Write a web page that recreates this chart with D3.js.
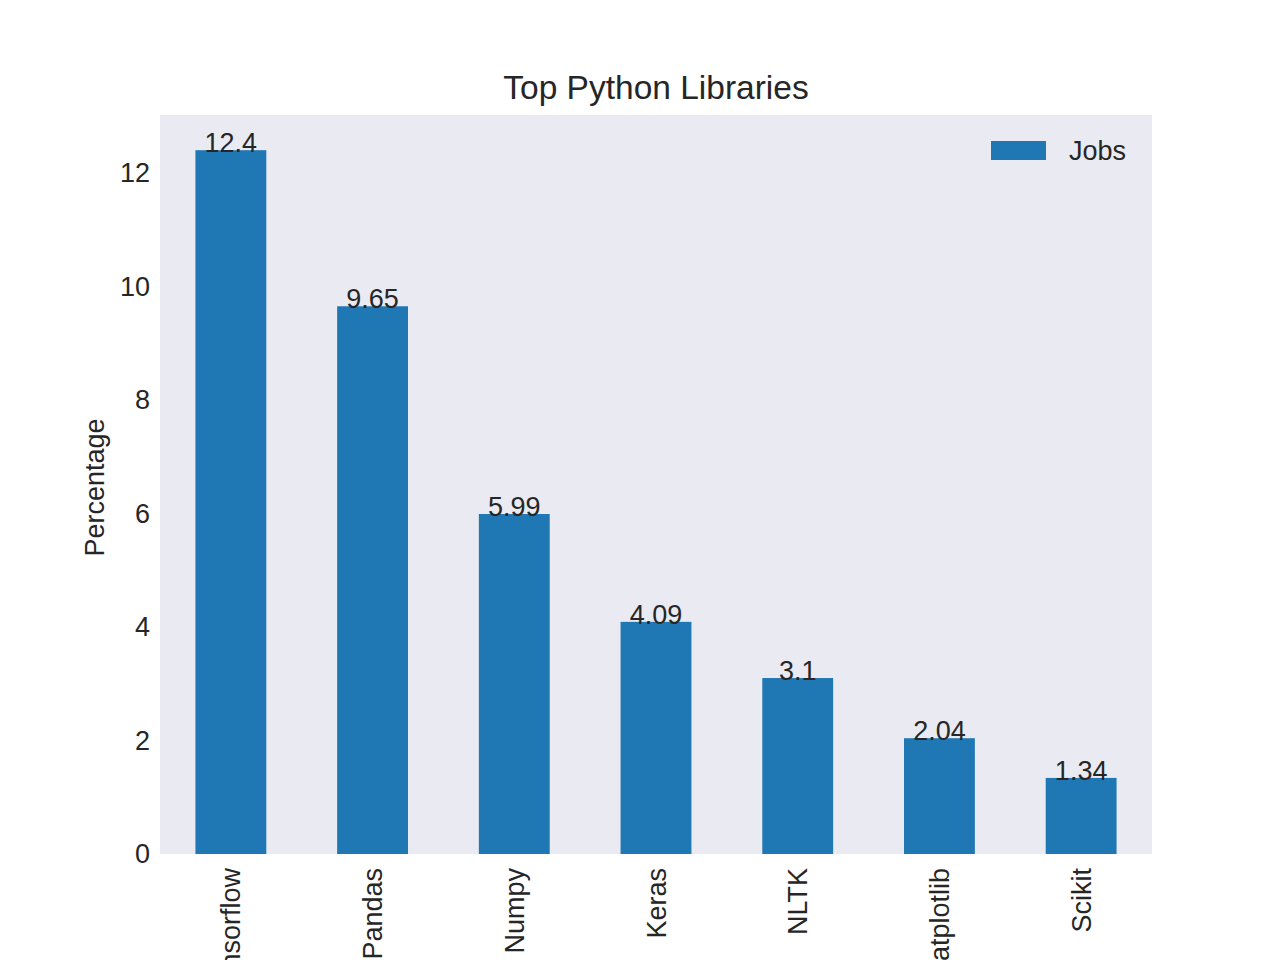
<!DOCTYPE html>
<html>
<head>
<meta charset="utf-8">
<script src="https://cdnjs.cloudflare.com/ajax/libs/d3/7.8.5/d3.min.js"></script>
<style>
  body { margin: 0; background: #fff; }
  svg { display: block; font-family: "Liberation Sans", Arial, sans-serif; }
</style>
</head>
<body>
<svg id="chart" width="1280" height="960"></svg>
<script>
// data
const libraries = ["Tensorflow", "Pandas", "Numpy", "Keras", "NLTK", "Matplotlib", "Scikit"];
const jobs = [12.4, 9.65, 5.99, 4.09, 3.1, 2.04, 1.34];
const yTicks = [0, 2, 4, 6, 8, 10, 12];

const margin = { top: 115, right: 128, bottom: 106, left: 160 };
const W = 1280, H = 960;
const width = W - margin.left - margin.right;
const height = H - margin.top - margin.bottom;

const svg = d3.select('#chart');
const g = svg.append('g').attr('transform', `translate(${margin.left},${margin.top})`);

// matplotlib style: positions -0.5..n-0.5, bar width 0.5
const x = d3.scaleLinear().domain([-0.5, libraries.length - 0.5]).range([0, width]);
const y = d3.scaleLinear().domain([0, d3.max(jobs) * 1.05]).range([height, 0]);
const barW = x(0.25) - x(-0.25);

g.append('rect')
  .attr('width', width)
  .attr('height', height)
  .attr('fill', '#eaeaf2');

g.selectAll('.bar')
  .data(jobs)
  .enter()
  .append('rect')
  .attr('class', 'bar')
  .attr('x', (d, i) => x(i) - barW / 2)
  .attr('y', d => y(d))
  .attr('width', barW)
  .attr('height', d => height - y(d))
  .attr('fill', '#1f77b4');

g.selectAll('.val')
  .data(jobs)
  .enter()
  .append('text')
  .attr('class', 'val')
  .attr('x', (d, i) => x(i))
  .attr('y', d => y(d) + 2)
  .attr('text-anchor', 'middle')
  .attr('font-size', 27)
  .attr('fill', '#262626')
  .text(d => d);

// y axis
const axisY = d3.axisLeft(y).tickValues(yTicks).tickSize(0).tickPadding(10);
const gy = g.append('g').attr('class', 'axis axis-y').call(axisY);
gy.select('.domain').remove();
gy.selectAll('text')
  .attr('font-size', 27)
  .attr('fill', '#262626')
  .attr('font-family', '"Liberation Sans", Arial, sans-serif');

// x axis, labels rotated (long ones run off the bottom, as in the original)
const axisX = d3.axisBottom(x).tickValues(d3.range(libraries.length)).tickSize(0).tickFormat(i => libraries[i]);
const gx = g.append('g').attr('class', 'axis axis-x').attr('transform', `translate(0,${height})`).call(axisX);
gx.select('.domain').remove();
gx.selectAll('text')
  .attr('font-size', 27)
  .attr('fill', '#262626')
  .attr('font-family', '"Liberation Sans", Arial, sans-serif')
  .attr('text-anchor', 'end')
  .attr('dy', null)
  .attr('y', 0)
  .attr('dominant-baseline', 'central')
  .attr('transform', 'translate(0,14) rotate(-90)');

// axis label
svg.append('text')
  .attr('transform', `translate(104,${margin.top + height / 2 + 3}) rotate(-90)`)
  .attr('text-anchor', 'middle')
  .attr('font-size', 27)
  .attr('fill', '#262626')
  .text('Percentage');

// title
svg.append('text')
  .attr('x', margin.left + width / 2)
  .attr('y', 99)
  .attr('text-anchor', 'middle')
  .attr('font-size', 33.5)
  .attr('fill', '#262626')
  .text('Top Python Libraries');

// legend
const legend = svg.append('g').attr('transform', 'translate(991,141)');
legend.append('rect').attr('width', 55).attr('height', 19).attr('fill', '#1f77b4');
legend.append('text')
  .attr('x', 78)
  .attr('y', 19)
  .attr('font-size', 27)
  .attr('fill', '#262626')
  .text('Jobs');
</script>
</body>
</html>
